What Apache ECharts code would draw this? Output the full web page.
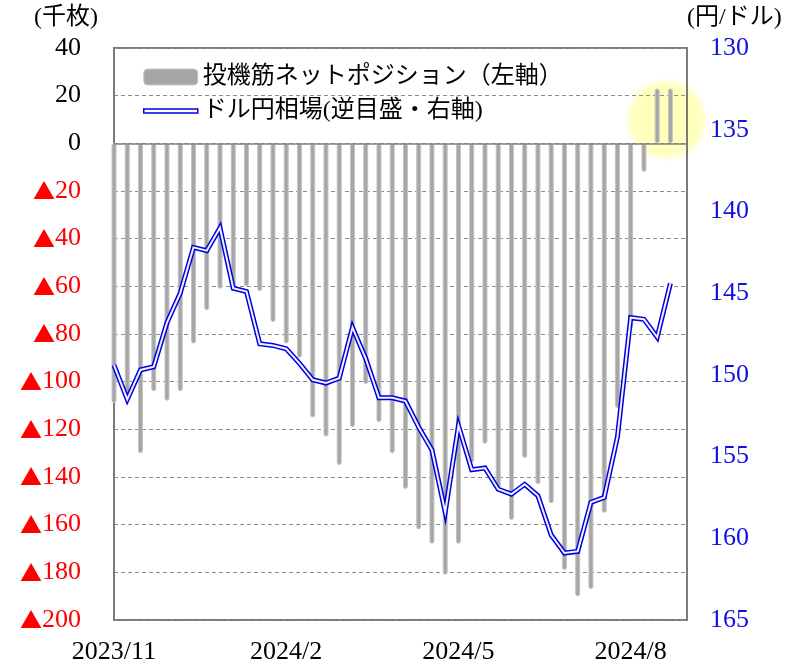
<!DOCTYPE html>
<html>
<head>
<meta charset="utf-8">
<script src="https://cdn.jsdelivr.net/npm/echarts@6/dist/echarts.min.js"></script>
<style>
html, body { margin: 0; padding: 0; background: #fff; }
#main { width: 801px; height: 666px; }
</style>
</head>
<body>
<div id="main"></div>
<script>
// weekly (Tue) data points
var weeks = [
    '2023/11/7', '2023/11/14', '2023/11/21', '2023/11/28', '2023/12/5', '2023/12/12', '2023/12/19', '2023/12/26',
    '2024/1/2', '2024/1/9', '2024/1/16', '2024/1/23', '2024/1/30',
    '2024/2/6', '2024/2/13', '2024/2/20', '2024/2/27',
    '2024/3/5', '2024/3/12', '2024/3/19', '2024/3/26',
    '2024/4/2', '2024/4/9', '2024/4/16', '2024/4/23', '2024/4/30',
    '2024/5/7', '2024/5/14', '2024/5/21', '2024/5/28',
    '2024/6/4', '2024/6/11', '2024/6/18', '2024/6/25',
    '2024/7/2', '2024/7/9', '2024/7/16', '2024/7/23', '2024/7/30',
    '2024/8/6', '2024/8/13', '2024/8/20', '2024/8/27'
];
// 投機筋ネットポジション (千枚)
var netPosition = [
    -109, -106, -130, -104, -108, -104, -84, -70,
    -61, -62, -60, -62, -75,
    -84, -90, -115, -123,
    -135, -119, -101, -117,
    -130, -145, -162, -168, -181,
    -168, -134, -126, -145,
    -158, -132, -143, -151,
    -179, -190, -187, -155, -111,
    -78, -12, 23, 23
];
// ドル円 (円/ドル)
var usdJpy = [
    149.4, 151.5, 149.7, 149.5, 146.8, 145.0, 142.2, 142.4,
    141.0, 144.7, 144.9, 148.1, 148.2,
    148.4, 149.3, 150.3, 150.5,
    150.2, 147.1, 149.0, 151.4,
    151.4, 151.6, 153.2, 154.6, 158.4,
    153.1, 155.8, 155.7, 157.0,
    157.3, 156.7, 157.4, 159.8,
    160.9, 160.8, 157.8, 157.5, 153.8,
    146.5, 146.6, 147.7, 144.4
];

var FONT = "'Liberation Serif', 'Noto Sans CJK JP', serif";
var BAR_NAME = '投機筋ネットポジション（左軸）';
var LINE_NAME = 'ドル円相場(逆目盛・右軸)';

var chartDom = document.getElementById('main');
var myChart = echarts.init(chartDom);

var barData = netPosition.map(function (v, i) { return [i, v]; });
var lineData = usdJpy.map(function (v, i) { return [i, v]; });

var option = {
    animation: false,
    backgroundColor: '#fff',
    textStyle: { fontFamily: FONT },
    grid: {
        left: 114,
        right: 114,
        top: 48,
        bottom: 46,
        show: true,
        borderColor: '#7a7a7a',
        borderWidth: 2,
        backgroundColor: 'transparent'
    },
    legend: {
        orient: 'vertical',
        left: 143,
        top: 65,
        padding: 0,
        itemWidth: 54,
        itemHeight: 16,
        itemGap: 10,
        selectedMode: false,
        textStyle: { fontSize: 24, fontFamily: FONT, color: '#000' },
        data: [
            {
                name: BAR_NAME,
                icon: 'roundRect',
                itemStyle: { color: '#a6a6a6', borderColor: '#c8c8c8', borderWidth: 1 }
            },
            {
                name: LINE_NAME,
                icon: 'path://M0,0H54V4H0Z',
                itemStyle: { color: '#ffffff', borderColor: '#0000dd', borderWidth: 1.5 }
            }
        ]
    },
    xAxis: {
        type: 'value',
        min: 0,
        max: 43.25,
        interval: 13,
        axisLine: { show: false },
        axisTick: { show: false },
        splitLine: { show: false },
        axisLabel: {
            showMaxLabel: false,
            margin: 19,
            fontSize: 26,
            fontFamily: FONT,
            color: '#000',
            formatter: function (v) {
                var w = weeks[v];
                if (!w) return '';
                var p = w.split('/');
                return p[0] + '/' + p[1];
            }
        }
    },
    yAxis: [
        {
            type: 'value',
            min: -200,
            max: 40,
            interval: 20,
            name: '(千枚)',
            nameLocation: 'end',
            nameGap: 18,
            nameTextStyle: { fontSize: 24, fontFamily: FONT, color: '#000', align: 'right', padding: [0, 16, 0, 0] },
            axisLine: { show: false },
            axisTick: { show: false },
            splitLine: { lineStyle: { color: '#8c8c8c', type: [4, 3], width: 1 } },
            axisLabel: {
                margin: 33,
                formatter: function (v) {
                    return v < 0 ? '{tri|▲}{neg|' + (-v) + '}' : '{pos|' + v + '}';
                },
                rich: {
                    tri: { color: '#ff0000', fontSize: 22, fontFamily: 'Noto Sans CJK JP' },
                    neg: { color: '#ff0000', fontSize: 26, fontFamily: FONT },
                    pos: { color: '#000', fontSize: 26, fontFamily: FONT }
                }
            }
        },
        {
            type: 'value',
            position: 'right',
            inverse: true,
            min: 130,
            max: 165,
            interval: 5,
            name: '(円/ドル)',
            nameLocation: 'start',
            nameGap: 18,
            nameTextStyle: { fontSize: 24, fontFamily: FONT, color: '#000', align: 'left', padding: [0, 0, 0, 0] },
            axisLine: { show: false },
            axisTick: { show: false },
            splitLine: { show: false },
            axisLabel: { margin: 23, fontSize: 26, fontFamily: FONT, color: '#1010e0' }
        }
    ],
    series: [
        {
            name: BAR_NAME,
            type: 'bar',
            xAxisIndex: 0,
            yAxisIndex: 0,
            barWidth: 5,
            clip: false,
            silent: true,
            itemStyle: { color: '#a6a6a6', borderColor: '#c4c4c4', borderWidth: 1, borderRadius: 3 },
            data: barData,
            markLine: {
                silent: true,
                symbol: 'none',
                label: { show: false },
                lineStyle: { color: '#808080', type: 'solid', width: 1.5 },
                data: [{ yAxis: 0 }]
            }
        },
        {
            name: LINE_NAME,
            type: 'line',
            yAxisIndex: 1,
            symbol: 'none',
            silent: true,
            z: 3,
            lineStyle: { color: '#0000dd', width: 5, join: 'miter' },
            data: lineData
        },
        {
            name: 'inner',
            type: 'line',
            yAxisIndex: 1,
            symbol: 'none',
            silent: true,
            z: 4,
            lineStyle: { color: '#eef2ff', width: 2, join: 'miter' },
            data: lineData
        }
    ]
};

myChart.setOption(option);

// highlight circle round the latest long positions
var c = myChart.convertToPixel({ xAxisIndex: 0, yAxisIndex: 0 }, [41.7, 10]);
myChart.setOption({
    graphic: [{
        type: 'circle',
        z: -1,
        silent: true,
        shape: { cx: c[0], cy: c[1], r: 43 },
        style: {
            fill: new echarts.graphic.RadialGradient(0.5, 0.5, 0.5, [
                { offset: 0, color: 'rgba(255,255,175,0.95)' },
                { offset: 0.8, color: 'rgba(255,255,185,0.9)' },
                { offset: 1, color: 'rgba(255,255,200,0)' }
            ])
        }
    }]
});
</script>
</body>
</html>
